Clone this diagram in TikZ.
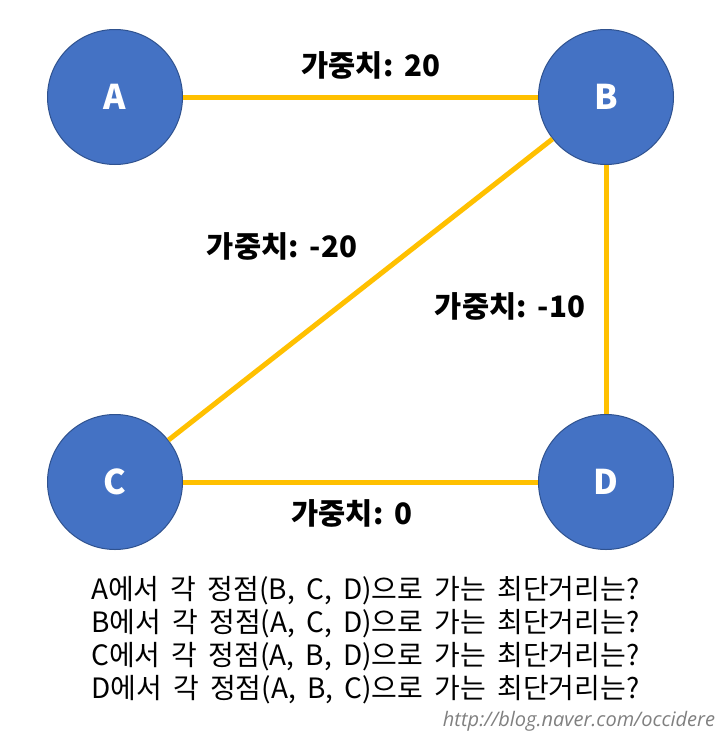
\documentclass[tikz,border=0pt]{standalone}
\usepackage{fontspec}
\setmainfont{Noto Sans CJK KR}
\newfontfamily\urlfont{Open Sans}
\usetikzlibrary{positioning}
\definecolor{nodeBlue}{HTML}{4472C4}
\definecolor{nodeRim}{HTML}{2F528F}
\definecolor{edgeGold}{HTML}{FFC000}
\newcommand\widegap[1]{\spaceskip=#1em\relax}
\tikzset{
  vertex/.style={circle, draw=nodeRim, line width=1pt, fill=nodeBlue, minimum size=135pt,
                 inner sep=0pt, text=white, font=\fontsize{34}{36}\selectfont\bfseries},
  link/.style={draw=edgeGold, line width=5pt},
  weight/.style={font=\fontsize{29.5}{32}\selectfont\bfseries\widegap{0.3}},
}

\begin{document}
\begin{tikzpicture}[x=1pt, y=-1pt]
\useasboundingbox (0,0) rectangle (728,739);
% vertices
\node[vertex] (A) at (115,97) {A};
\node[vertex] (B) at (606,97) {B};
\node[vertex] (C) at (115,482) {C};
\node[vertex] (D) at (606,482) {D};
% edges
\draw[link] (A) -- (B);
\draw[link] (B) -- (C);
\draw[link] (B) -- (D);
\draw[link] (C) -- (D);
% weights
\node[weight] (wAB) at (371,65) {가중치: 20};
\node[weight] (wBC) at (282,246) {가중치: -20};
\node[weight] (wBD) at (510,306) {가중치: -10};
\node[weight] (wCD) at (352,513) {가중치: 0};
% question
\node[align=left, anchor=north west, inner sep=0pt,
      font=\fontsize{28}{33}\selectfont\widegap{0.4}] (ask) at (91,576)
  {A에서 각 정점(B, C, D)으로 가는 최단거리는?\\
   B에서 각 정점(A, C, D)으로 가는 최단거리는?\\
   C에서 각 정점(A, B, D)으로 가는 최단거리는?\\
   D에서 각 정점(A, B, C)으로 가는 최단거리는?};
\node[text=gray, font=\urlfont\itshape\fontsize{20}{22}\selectfont] (url) at (579,721) {http://blog.naver.com/occidere};
\end{tikzpicture}
\end{document}
